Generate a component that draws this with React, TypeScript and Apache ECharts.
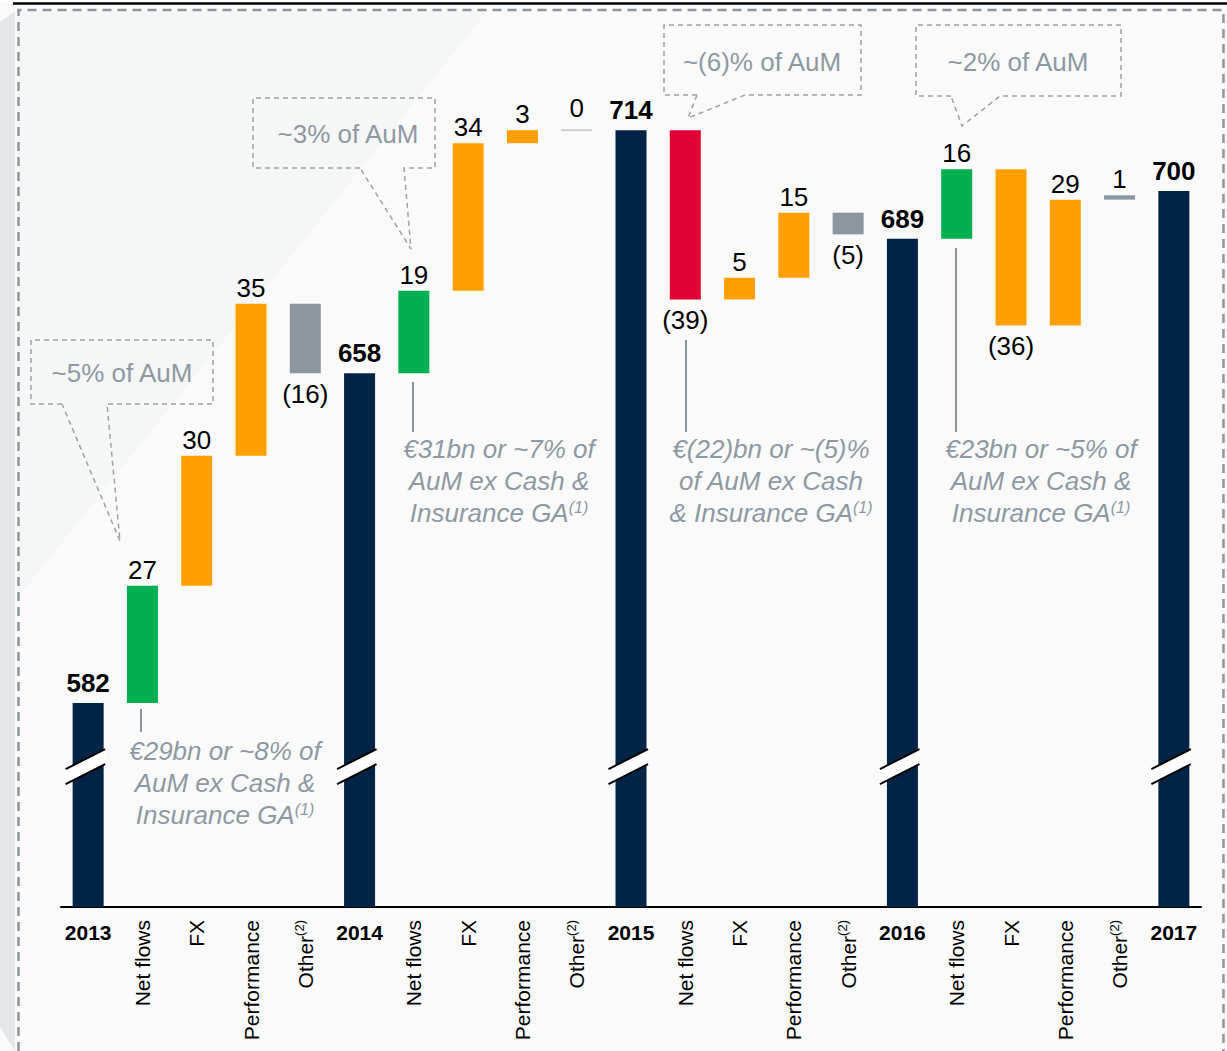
import React, { useEffect, useRef } from "react";
import * as echarts from "echarts";

const categories = [
  "2013", "Net flows", "FX", "Performance", "Other",
  "2014", "Net flows", "FX", "Performance", "Other",
  "2015", "Net flows", "FX", "Performance", "Other",
  "2016", "Net flows", "FX", "Performance", "Other",
  "2017",
];
const yearTotals = [582, 658, 714, 689, 700];
const netFlows = [27, 19, -39, 16];
const fxChanges = [30, 34, 5, -36];
const performanceChanges = [35, 3, 15, 29];
const otherChanges = [-16, 0, -5, 1];

const Y_MIN = 535;
const Y_MAX = 741.7;
const BREAK_VALUE = 567.7;

const FONT = "Liberation Sans, Arial, sans-serif";
const COLORS = ["#002346", "#00B050", "#E10033", "#FFA000", "#8B969E", "#C9CED3"];
const GREY_TEXT = "#8E99A3";
const DASH = "#9AA3AB";

// rows: [categoryIndex, start, end, kind], labels separately
const rows: number[][] = [];
const rowLabels: string[] = [];
for (let y = 0; y < yearTotals.length; y++) {
  const base = y * 5;
  rows.push([base, Y_MIN, yearTotals[y], 0]);
  rowLabels.push(String(yearTotals[y]));
  if (y < 4) {
    let run = yearTotals[y];
    const deltas = [netFlows[y], fxChanges[y], performanceChanges[y], otherChanges[y]];
    deltas.forEach((d, k) => {
      const kind = d === 0 ? 5 : k === 3 ? 4 : k === 0 ? (d >= 0 ? 1 : 2) : 3;
      rows.push([base + 1 + k, run, run + d, kind]);
      rowLabels.push(d < 0 ? `(${-d})` : String(d));
      run += d;
    });
  }
}
const breakRows = yearTotals.map((_, k) => [k * 5, BREAK_VALUE]);

function callout(pts: number[][]) {
  return {
    type: "polyline",
    shape: { points: pts },
    style: { stroke: DASH, lineWidth: 1.5, lineDash: [5, 4], fill: null },
    z: 5,
  };
}
function calloutText(text: string, x: number, y: number) {
  return {
    type: "text",
    x,
    y,
    style: {
      text,
      align: "center",
      verticalAlign: "middle",
      fontSize: 26,
      fontFamily: FONT,
      fill: GREY_TEXT,
    },
    z: 5,
  };
}
function note(text: string, x: number, y: number) {
  return {
    type: "text",
    x,
    y,
    style: {
      text,
      align: "center",
      verticalAlign: "top",
      fontSize: 26,
      fontStyle: "italic",
      fontFamily: FONT,
      fill: GREY_TEXT,
      lineHeight: 32,
      rich: {
        s: {
          fontSize: 16,
          fontStyle: "italic",
          fontFamily: FONT,
          fill: GREY_TEXT,
          verticalAlign: "top",
          lineHeight: 32,
          padding: [2, 0, 0, 0],
        },
      },
    },
    z: 5,
  };
}
function leader(x: number, y1: number, y2: number) {
  return {
    type: "line",
    shape: { x1: x, y1, x2: x, y2 },
    style: { stroke: "#8C969F", lineWidth: 2 },
    z: 5,
  };
}

export default function App() {
  const ref = useRef<HTMLDivElement>(null);
  useEffect(() => {
    if (!ref.current) return;
    const chart = echarts.init(ref.current, undefined, { renderer: "svg" });
    const option: any = {
      animation: false,
      backgroundColor: "#FAFAFA",
      grid: { left: 61, right: 26, top: 10, bottom: 144, containLabel: false },
      xAxis: [
        {
          type: "category",
          data: categories,
          position: "bottom",
          axisTick: { show: false },
          axisLine: { show: true, lineStyle: { color: "#000", width: 2 } },
          axisLabel: {
            interval: 0,
            rotate: 90,
            margin: 13,
            formatter: (v: string, idx: number) =>
              idx % 5 === 0 ? "" : v === "Other" ? "{b|Other}{s|(2)}" : `{b|${v}}`,
            rich: {
              b: { fontSize: 21, fontFamily: FONT, color: "#000", lineHeight: 24 },
              s: { fontSize: 13, fontFamily: FONT, color: "#000", verticalAlign: "top", lineHeight: 24 },
            },
          },
          splitLine: { show: false },
        },
        {
          type: "category",
          data: categories,
          position: "bottom",
          axisTick: { show: false },
          axisLine: { show: false },
          axisLabel: {
            interval: 0,
            margin: 15,
            formatter: (v: string, idx: number) => (idx % 5 === 0 ? v : ""),
            fontSize: 21,
            fontWeight: "bold",
            fontFamily: FONT,
            color: "#000",
          },
          splitLine: { show: false },
        },
      ],
      yAxis: { type: "value", min: Y_MIN, max: Y_MAX, show: false, splitLine: { show: false } },
      series: [
        {
          type: "custom",
          xAxisIndex: 0,
          z: 3,
          encode: { x: 0, y: [1, 2] },
          data: rows,
          renderItem: (params: any, api: any) => {
            const i = api.value(0);
            const s = api.value(1);
            const e = api.value(2);
            const kind = api.value(3);
            const label = rowLabels[params.dataIndex];
            const pS = api.coord([i, s]);
            const pE = api.coord([i, e]);
            const w = 31;
            const x = pS[0] - w / 2;
            const top = Math.min(pS[1], pE[1]);
            const bot = Math.max(pS[1], pE[1]);
            const children: any[] = [];
            if (kind === 5) {
              children.push({ type: "rect", shape: { x, y: top - 1, width: w, height: 2 }, style: { fill: COLORS[5] } });
            } else {
              children.push({
                type: "rect",
                shape: { x, y: top, width: w, height: Math.max(bot - top, 3) },
                style: { fill: COLORS[kind] },
              });
            }
            const neg = e < s;
            children.push({
              type: "text",
              style: {
                text: label,
                x: pS[0],
                y: neg ? bot + 8 : top - (kind === 0 ? 7 : kind === 5 ? 9 : 3),
                align: "center",
                verticalAlign: neg ? "top" : "bottom",
                fontSize: 26,
                fontWeight: kind === 0 ? "bold" : "normal",
                fontFamily: FONT,
                fill: "#000",
              },
            });
            return { type: "group", children };
          },
        },
        {
          type: "custom",
          xAxisIndex: 0,
          z: 4,
          data: breakRows,
          renderItem: (params: any, api: any) => {
            const p = api.coord([api.value(0), api.value(1)]);
            const cx = p[0];
            const cy = p[1];
            const tl = [cx - 22.5, cy + 4];
            const tr = [cx + 17, cy - 16];
            const br = [cx + 17, cy - 1];
            const bl = [cx - 22.5, cy + 19];
            return {
              type: "group",
              children: [
                { type: "polygon", shape: { points: [tl, tr, br, bl] }, style: { fill: "#FFFFFF" } },
                { type: "line", shape: { x1: tl[0], y1: tl[1], x2: tr[0], y2: tr[1] }, style: { stroke: "#000", lineWidth: 2 } },
                { type: "line", shape: { x1: bl[0], y1: bl[1], x2: br[0], y2: br[1] }, style: { stroke: "#000", lineWidth: 2 } },
              ],
            };
          },
        },
      ],
      graphic: [
        {
          type: "polygon",
          shape: { points: [[18, 10], [488, 10], [18, 597]] },
          style: { fill: "#F5F6F6" },
          z: -10,
        },
        {
          type: "polygon",
          shape: { points: [[0, 22], [15, 11], [15, 1051], [0, 1027]] },
          style: { fill: "#E4E8EB" },
          z: -10,
        },
        { type: "rect", shape: { x: 0, y: 0, width: 1227, height: 2 }, style: { fill: "#FFFFFF" }, z: -9 },
        { type: "line", shape: { x1: 13, y1: 3.5, x2: 1227, y2: 3.5 }, style: { stroke: "#000", lineWidth: 2.5 }, z: 6 },
        { type: "polyline", shape: { points: [[18.5, 1051], [18.5, 10], [1223.5, 10], [1223.5, 1051]] }, style: { stroke: "#8C969F", lineWidth: 2.5, lineDash: [9, 6], fill: null }, z: 6 },
        // callout 1
        callout([[62, 404], [31, 404], [31, 340], [213, 340], [213, 404], [107, 404], [120, 541], [62, 404]]),
        calloutText("~5% of AuM", 122, 373),
        // callout 2
        callout([[360, 168], [253, 168], [253, 98], [435, 98], [435, 168], [404, 168], [411, 249], [360, 168]]),
        calloutText("~3% of AuM", 348, 134),
        // callout 3
        callout([[697, 95], [664, 95], [664, 25], [861, 25], [861, 95], [745, 95], [688, 118], [697, 95]]),
        calloutText("~(6)% of AuM", 762, 62),
        // callout 4
        callout([[951, 96], [916, 96], [916, 25], [1121, 25], [1121, 96], [1000, 96], [962, 126], [951, 96]]),
        calloutText("~2% of AuM", 1018, 62),
        // notes
        leader(141, 709, 732),
        note("€29bn or ~8% of\nAuM ex Cash &\nInsurance GA{s|(1)}", 225, 735),
        leader(413, 382, 432),
        note("€31bn or ~7% of\nAuM ex Cash &\nInsurance GA{s|(1)}", 499, 433),
        leader(686, 340, 432),
        note("€(22)bn or ~(5)%\nof AuM ex Cash\n& Insurance GA{s|(1)}", 771, 433),
        leader(956, 248, 432),
        note("€23bn or ~5% of\nAuM ex Cash &\nInsurance GA{s|(1)}", 1041, 433),
      ],
    };
    chart.setOption(option);
    return () => chart.dispose();
  }, []);
  return (
    <div
      ref={ref}
      style={{ position: "absolute", left: 0, top: 0, width: 1227, height: 1051 }}
    />
  );
}
